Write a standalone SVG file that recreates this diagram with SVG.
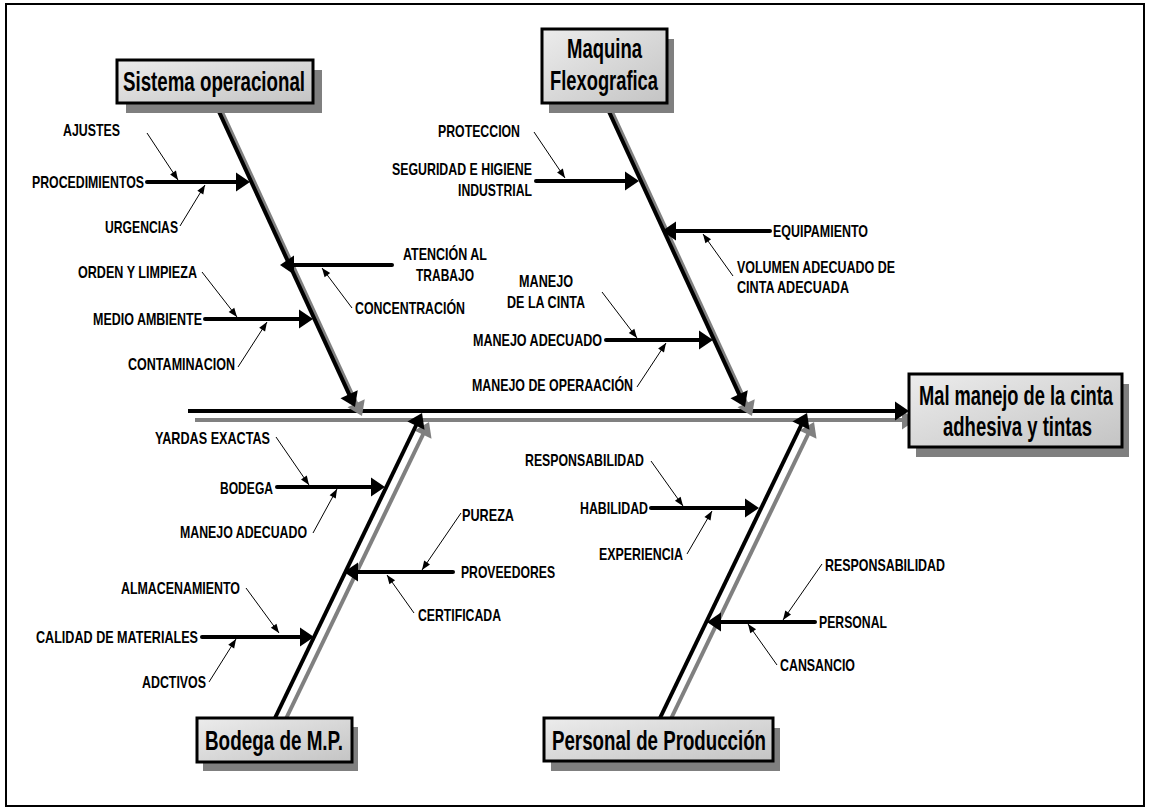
<svg xmlns="http://www.w3.org/2000/svg" width="1150" height="811" viewBox="0 0 1150 811">
<defs>
<linearGradient id="boxfill" x1="0" y1="0" x2="1" y2="1">
<stop offset="0" stop-color="#ececec"/>
<stop offset="1" stop-color="#c4c4c4"/>
</linearGradient>
<marker id="bigB" markerUnits="userSpaceOnUse" markerWidth="16" markerHeight="20" refX="4" refY="9.5" orient="auto" overflow="visible">
<path d="M0,0 L14,9.5 L0,19 z" fill="#000"/>
</marker>
<marker id="bigG" markerUnits="userSpaceOnUse" markerWidth="16" markerHeight="20" refX="4" refY="9.5" orient="auto" overflow="visible">
<path d="M0,0 L14,9.5 L0,19 z" fill="#808080"/>
</marker>
<marker id="small" markerUnits="userSpaceOnUse" markerWidth="10" markerHeight="8" refX="9" refY="3.5" orient="auto" overflow="visible">
<path d="M0,0 L9,3.5 L0,7 z" fill="#000"/>
</marker>
</defs>
<style>
.frame{fill:#fff;stroke:#000;stroke-width:2}
.box{fill:url(#boxfill);stroke:#000;stroke-width:3}
.shadow{fill:#7f7f7f}
.title{font-family:"Liberation Sans",Arial,sans-serif;font-weight:bold;font-size:27px;fill:#000}
.mid{text-anchor:middle}
.lbl{font-family:"Liberation Sans",Arial,sans-serif;font-weight:bold;font-size:17px;fill:#000}
.bone{stroke:#000;stroke-width:4;fill:none;marker-end:url(#bigB)}
.boneg{stroke:#808080;stroke-width:4;fill:none;marker-end:url(#bigG)}
.sub{stroke:#000;stroke-width:4;fill:none;stroke-linecap:round;marker-end:url(#bigB)}
.thin{stroke:#000;stroke-width:1;fill:none;marker-end:url(#small)}
</style>
<rect class="frame" x="6" y="4" width="1138" height="802"/>

<g id="connectors">
<line class="boneg" x1="195" y1="420" x2="906" y2="420"/>
<line class="bone" x1="188" y1="411" x2="899" y2="411"/>
<line class="boneg" x1="222" y1="112" x2="357.8" y2="406.9"/>
<line class="boneg" x1="612" y1="112" x2="747.8" y2="406.9"/>
<line class="boneg" x1="282" y1="727" x2="424.7" y2="431"/>
<line class="boneg" x1="667" y1="727" x2="809.7" y2="431"/>
<line class="bone" x1="215" y1="103" x2="350.8" y2="397.9"/>
<line class="bone" x1="605" y1="103" x2="740.8" y2="397.9"/>
<line class="bone" x1="275" y1="718" x2="417.7" y2="422"/>
<line class="bone" x1="660" y1="718" x2="802.7" y2="422"/>
<line class="sub" x1="147" y1="182" x2="240" y2="182"/>
<line class="sub" x1="392" y1="265" x2="290" y2="265"/>
<line class="sub" x1="205" y1="319" x2="303" y2="319"/>
<line class="sub" x1="536" y1="181" x2="629" y2="181"/>
<line class="sub" x1="770" y1="231" x2="672" y2="231"/>
<line class="sub" x1="606" y1="340" x2="703" y2="340"/>
<line class="sub" x1="277" y1="487" x2="375" y2="487"/>
<line class="sub" x1="453" y1="572" x2="354" y2="572"/>
<line class="sub" x1="202" y1="637" x2="304" y2="637"/>
<line class="sub" x1="651" y1="508" x2="749" y2="508"/>
<line class="sub" x1="815" y1="622" x2="717" y2="622"/>
<line class="thin" x1="147" y1="133" x2="178" y2="180"/>
<line class="thin" x1="180" y1="226" x2="205" y2="185"/>
<line class="thin" x1="202" y1="272" x2="237" y2="317"/>
<line class="thin" x1="238" y1="367" x2="267" y2="322"/>
<line class="thin" x1="352" y1="308" x2="322" y2="268"/>
<line class="thin" x1="534" y1="132" x2="565" y2="178"/>
<line class="thin" x1="733" y1="276" x2="703" y2="234"/>
<line class="thin" x1="602" y1="292" x2="637" y2="338"/>
<line class="thin" x1="637" y1="387" x2="666" y2="343"/>
<line class="thin" x1="276" y1="437" x2="309" y2="485"/>
<line class="thin" x1="313" y1="533" x2="337" y2="489"/>
<line class="thin" x1="461" y1="513" x2="422" y2="570"/>
<line class="thin" x1="414" y1="613" x2="387" y2="575"/>
<line class="thin" x1="246" y1="588" x2="279" y2="633"/>
<line class="thin" x1="209" y1="682" x2="236" y2="639"/>
<line class="thin" x1="651" y1="461" x2="683" y2="506"/>
<line class="thin" x1="687" y1="554" x2="712" y2="511"/>
<line class="thin" x1="822" y1="564" x2="783" y2="620"/>
<line class="thin" x1="777" y1="665" x2="748" y2="624"/>
</g>

<g id="node-effect">
<rect class="shadow" x="916" y="384" width="213" height="73"/>
<rect class="box" x="909" y="374" width="213" height="73"/>
<text class="title mid" transform="translate(1016,405) scale(0.677,1)" x="0" y="0">Mal manejo de la cinta</text>
<text class="title mid" transform="translate(1017.5,436) scale(0.685,1)" x="0" y="0">adhesiva y tintas</text>
</g>

<g id="node-sistema">
<rect class="shadow" x="126" y="70" width="196" height="43"/>
<rect class="box" x="117" y="60" width="196" height="43"/>
<text class="title" x="123" y="91" textLength="182" lengthAdjust="spacingAndGlyphs">Sistema operacional</text>
</g>

<g id="node-maquina">
<rect class="shadow" x="549" y="39" width="125" height="74"/>
<rect class="box" x="542" y="29" width="125" height="74"/>
<text class="title" x="567" y="58" textLength="75" lengthAdjust="spacingAndGlyphs">Maquina</text>
<text class="title" x="550" y="90" textLength="108" lengthAdjust="spacingAndGlyphs">Flexografica</text>
</g>

<g id="node-bodega">
<rect class="shadow" x="203" y="727" width="155" height="44"/>
<rect class="box" x="197" y="718" width="155" height="44"/>
<text class="title" x="205" y="750" textLength="138" lengthAdjust="spacingAndGlyphs">Bodega de M.P.</text>
</g>

<g id="node-personal">
<rect class="shadow" x="551" y="728" width="229" height="43"/>
<rect class="box" x="544" y="718" width="229" height="43"/>
<text class="title" x="552" y="750" textLength="214" lengthAdjust="spacingAndGlyphs">Personal de Producción</text>
</g>

<g id="labels-sistema">
<text class="lbl" x="63" y="136" textLength="57" lengthAdjust="spacingAndGlyphs">AJUSTES</text>
<text class="lbl" x="32" y="188" textLength="112" lengthAdjust="spacingAndGlyphs">PROCEDIMIENTOS</text>
<text class="lbl" x="105" y="233" textLength="73" lengthAdjust="spacingAndGlyphs">URGENCIAS</text>
<text class="lbl" x="78" y="278" textLength="119" lengthAdjust="spacingAndGlyphs">ORDEN Y LIMPIEZA</text>
<text class="lbl" x="93" y="325" textLength="109" lengthAdjust="spacingAndGlyphs">MEDIO AMBIENTE</text>
<text class="lbl" x="128" y="370" textLength="107" lengthAdjust="spacingAndGlyphs">CONTAMINACION</text>
<text class="lbl" x="403" y="260" textLength="84" lengthAdjust="spacingAndGlyphs">ATENCIÓN AL</text>
<text class="lbl" x="416" y="281" textLength="58" lengthAdjust="spacingAndGlyphs">TRABAJO</text>
<text class="lbl" x="355" y="314" textLength="110" lengthAdjust="spacingAndGlyphs">CONCENTRACIÓN</text>
</g>

<g id="labels-maquina">
<text class="lbl" x="438" y="137" textLength="82" lengthAdjust="spacingAndGlyphs">PROTECCION</text>
<text class="lbl" x="392" y="175" textLength="140" lengthAdjust="spacingAndGlyphs">SEGURIDAD E HIGIENE</text>
<text class="lbl" x="458" y="196" textLength="74" lengthAdjust="spacingAndGlyphs">INDUSTRIAL</text>
<text class="lbl" x="773" y="237" textLength="95" lengthAdjust="spacingAndGlyphs">EQUIPAMIENTO</text>
<text class="lbl" x="737" y="273" textLength="158" lengthAdjust="spacingAndGlyphs">VOLUMEN ADECUADO DE</text>
<text class="lbl" x="737" y="293" textLength="112" lengthAdjust="spacingAndGlyphs">CINTA ADECUADA</text>
<text class="lbl" x="519" y="287" textLength="54" lengthAdjust="spacingAndGlyphs">MANEJO</text>
<text class="lbl" x="507" y="308" textLength="78" lengthAdjust="spacingAndGlyphs">DE LA CINTA</text>
<text class="lbl" x="473" y="346" textLength="129" lengthAdjust="spacingAndGlyphs">MANEJO ADECUADO</text>
<text class="lbl" x="472" y="391" textLength="161" lengthAdjust="spacingAndGlyphs">MANEJO DE OPERAACIÓN</text>
</g>

<g id="labels-bodega">
<text class="lbl" x="155" y="444" textLength="115" lengthAdjust="spacingAndGlyphs">YARDAS EXACTAS</text>
<text class="lbl" x="220" y="494" textLength="53" lengthAdjust="spacingAndGlyphs">BODEGA</text>
<text class="lbl" x="180" y="538" textLength="127" lengthAdjust="spacingAndGlyphs">MANEJO ADECUADO</text>
<text class="lbl" x="462" y="521" textLength="52" lengthAdjust="spacingAndGlyphs">PUREZA</text>
<text class="lbl" x="461" y="578" textLength="94" lengthAdjust="spacingAndGlyphs">PROVEEDORES</text>
<text class="lbl" x="418" y="621" textLength="83" lengthAdjust="spacingAndGlyphs">CERTIFICADA</text>
<text class="lbl" x="121" y="594" textLength="119" lengthAdjust="spacingAndGlyphs">ALMACENAMIENTO</text>
<text class="lbl" x="36" y="643" textLength="162" lengthAdjust="spacingAndGlyphs">CALIDAD DE MATERIALES</text>
<text class="lbl" x="142" y="688" textLength="64" lengthAdjust="spacingAndGlyphs">ADCTIVOS</text>
</g>

<g id="labels-personal">
<text class="lbl" x="525" y="466" textLength="119" lengthAdjust="spacingAndGlyphs">RESPONSABILIDAD</text>
<text class="lbl" x="580" y="514" textLength="68" lengthAdjust="spacingAndGlyphs">HABILIDAD</text>
<text class="lbl" x="599" y="560" textLength="84" lengthAdjust="spacingAndGlyphs">EXPERIENCIA</text>
<text class="lbl" x="825" y="571" textLength="120" lengthAdjust="spacingAndGlyphs">RESPONSABILIDAD</text>
<text class="lbl" x="819" y="628" textLength="68" lengthAdjust="spacingAndGlyphs">PERSONAL</text>
<text class="lbl" x="780" y="671" textLength="75" lengthAdjust="spacingAndGlyphs">CANSANCIO</text>
</g>
</svg>
